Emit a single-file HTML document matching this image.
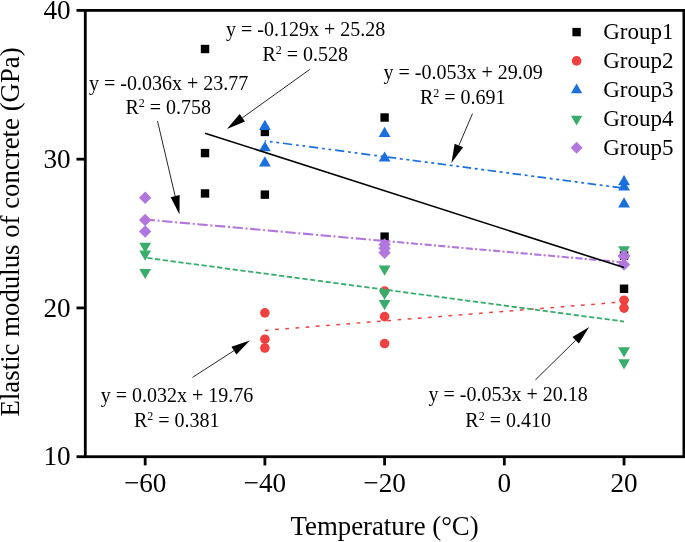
<!DOCTYPE html>
<html><head><meta charset="utf-8"><title>chart</title>
<style>
html,body{margin:0;padding:0;background:#fff;}
body{width:685px;height:542px;overflow:hidden;}
svg{display:block;will-change:transform;}
text{font-family:"Liberation Serif",serif;fill:#000;}
.tk{font-size:27.2px;}
.ti{font-size:26.8px;}
.lg{font-size:23px;}
.an{font-size:20px;}
</style></head><body>
<svg width="685" height="542" viewBox="0 0 685 542">
<rect x="0" y="0" width="685" height="542" fill="#fff"/>

<rect x="200.82" y="44.81" width="8.4" height="8.4" fill="#000000"/>
<rect x="200.82" y="148.89" width="8.4" height="8.4" fill="#000000"/>
<rect x="200.82" y="189.24" width="8.4" height="8.4" fill="#000000"/>
<rect x="260.68" y="127.75" width="8.4" height="8.4" fill="#000000"/>
<rect x="260.68" y="190.44" width="8.4" height="8.4" fill="#000000"/>
<rect x="380.40" y="113.31" width="8.4" height="8.4" fill="#000000"/>
<rect x="380.40" y="232.43" width="8.4" height="8.4" fill="#000000"/>
<rect x="619.84" y="251.48" width="8.4" height="8.4" fill="#000000"/>
<rect x="619.84" y="284.54" width="8.4" height="8.4" fill="#000000"/>
<circle cx="264.88" cy="312.86" r="4.8" fill="#F14040"/>
<circle cx="264.88" cy="339.22" r="4.8" fill="#F14040"/>
<circle cx="264.88" cy="348.00" r="4.8" fill="#F14040"/>
<circle cx="384.60" cy="291.12" r="4.8" fill="#F14040"/>
<circle cx="384.60" cy="316.59" r="4.8" fill="#F14040"/>
<circle cx="384.60" cy="343.54" r="4.8" fill="#F14040"/>
<circle cx="624.04" cy="300.21" r="4.8" fill="#F14040"/>
<circle cx="624.04" cy="308.10" r="4.8" fill="#F14040"/>
<path d="M258.98 129.90L270.78 129.90L264.88 119.70Z" fill="#1A6FDF"/>
<path d="M258.98 151.34L270.78 151.34L264.88 141.14Z" fill="#1A6FDF"/>
<path d="M258.98 166.38L270.78 166.38L264.88 156.18Z" fill="#1A6FDF"/>
<path d="M378.70 137.05L390.50 137.05L384.60 126.85Z" fill="#1A6FDF"/>
<path d="M378.70 161.62L390.50 161.62L384.60 151.42Z" fill="#1A6FDF"/>
<path d="M618.14 185.29L629.94 185.29L624.04 175.09Z" fill="#1A6FDF"/>
<path d="M618.14 190.50L629.94 190.50L624.04 180.30Z" fill="#1A6FDF"/>
<path d="M618.14 207.48L629.94 207.48L624.04 197.28Z" fill="#1A6FDF"/>
<path d="M139.26 242.84L151.06 242.84L145.16 253.04Z" fill="#37AD6B"/>
<path d="M139.26 250.58L151.06 250.58L145.16 260.78Z" fill="#37AD6B"/>
<path d="M139.26 268.90L151.06 268.90L145.16 279.10Z" fill="#37AD6B"/>
<path d="M378.70 265.62L390.50 265.62L384.60 275.82Z" fill="#37AD6B"/>
<path d="M378.70 289.75L390.50 289.75L384.60 299.95Z" fill="#37AD6B"/>
<path d="M378.70 300.02L390.50 300.02L384.60 310.22Z" fill="#37AD6B"/>
<path d="M618.14 246.27L629.94 246.27L624.04 256.47Z" fill="#37AD6B"/>
<path d="M618.14 347.37L629.94 347.37L624.04 357.57Z" fill="#37AD6B"/>
<path d="M618.14 359.28L629.94 359.28L624.04 369.48Z" fill="#37AD6B"/>
<path d="M138.96 197.76L145.16 191.56L151.36 197.76L145.16 203.96Z" fill="#B177DE"/>
<path d="M138.96 219.95L145.16 213.75L151.36 219.95L145.16 226.15Z" fill="#B177DE"/>
<path d="M138.96 231.56L145.16 225.36L151.36 231.56L145.16 237.76Z" fill="#B177DE"/>
<path d="M378.40 244.52L384.60 238.32L390.80 244.52L384.60 250.72Z" fill="#B177DE"/>
<path d="M378.40 248.24L384.60 242.04L390.80 248.24L384.60 254.44Z" fill="#B177DE"/>
<path d="M378.40 252.71L384.60 246.51L390.80 252.71L384.60 258.91Z" fill="#B177DE"/>
<path d="M617.84 255.83L624.04 249.63L630.24 255.83L624.04 262.03Z" fill="#B177DE"/>
<path d="M617.84 256.28L624.04 250.08L630.24 256.28L624.04 262.48Z" fill="#B177DE"/>
<path d="M617.84 264.62L624.04 258.42L630.24 264.62L624.04 270.82Z" fill="#B177DE"/>
<line x1="264.88" y1="330.43" x2="624.04" y2="301.84" stroke="#F14040" stroke-width="1.5" stroke-dasharray="3.7 6.53" stroke-dashoffset="0"/>
<line x1="264.88" y1="140.88" x2="384.60" y2="156.67" stroke="#1A6FDF" stroke-width="1.7" stroke-dasharray="9.2 3.95 2.7 3.8 2.7 3.95" stroke-dashoffset="8.04"/>
<line x1="384.60" y1="156.67" x2="624.04" y2="188.23" stroke="#1A6FDF" stroke-width="1.7" stroke-dasharray="8.6 3.6 3 3.6 3 3.4" stroke-dashoffset="22.13"/>
<line x1="145.16" y1="257.68" x2="624.04" y2="321.53" stroke="#37AD6B" stroke-width="1.8" stroke-dasharray="5.25 2.57" stroke-dashoffset="5.67"/>
<line x1="145.16" y1="219.50" x2="384.60" y2="240.94" stroke="#B177DE" stroke-width="2.1" stroke-dasharray="10.3 2.7 2 2.67" stroke-dashoffset="0.6"/>
<line x1="384.60" y1="240.94" x2="624.04" y2="262.39" stroke="#B177DE" stroke-width="2.1" stroke-dasharray="7.1 2.3 2.07 2.3" stroke-dashoffset="1.2"/>
<line x1="205.02" y1="133.14" x2="624.04" y2="267.60" stroke="#000000" stroke-width="1.6"/>
<rect x="85.30" y="10.40" width="598.60" height="446.30" fill="none" stroke="#000" stroke-width="2.8"/>
<line x1="76.50" y1="456.70" x2="85.30" y2="456.70" stroke="#000" stroke-width="2.8"/>
<text x="70.70" y="465.30" text-anchor="end" class="tk">10</text>
<line x1="76.50" y1="307.93" x2="85.30" y2="307.93" stroke="#000" stroke-width="2.8"/>
<text x="70.70" y="316.53" text-anchor="end" class="tk">20</text>
<line x1="76.50" y1="159.17" x2="85.30" y2="159.17" stroke="#000" stroke-width="2.8"/>
<text x="70.70" y="167.77" text-anchor="end" class="tk">30</text>
<line x1="76.50" y1="10.40" x2="85.30" y2="10.40" stroke="#000" stroke-width="2.8"/>
<text x="70.70" y="19.00" text-anchor="end" class="tk">40</text>
<line x1="145.16" y1="456.70" x2="145.16" y2="465.40" stroke="#000" stroke-width="2.8"/>
<text x="145.16" y="491.6" text-anchor="middle" class="tk">−60</text>
<line x1="264.88" y1="456.70" x2="264.88" y2="465.40" stroke="#000" stroke-width="2.8"/>
<text x="264.88" y="491.6" text-anchor="middle" class="tk">−40</text>
<line x1="384.60" y1="456.70" x2="384.60" y2="465.40" stroke="#000" stroke-width="2.8"/>
<text x="384.60" y="491.6" text-anchor="middle" class="tk">−20</text>
<line x1="504.32" y1="456.70" x2="504.32" y2="465.40" stroke="#000" stroke-width="2.8"/>
<text x="504.32" y="491.6" text-anchor="middle" class="tk">0</text>
<line x1="624.04" y1="456.70" x2="624.04" y2="465.40" stroke="#000" stroke-width="2.8"/>
<text x="624.04" y="491.6" text-anchor="middle" class="tk">20</text>
<text x="384.6" y="535.3" text-anchor="middle" class="ti">Temperature (°C)</text>
<text transform="translate(19,231.9) rotate(-90)" text-anchor="middle" class="ti">Elastic modulus of concrete (GPa)</text>
<rect x="572.40" y="27.90" width="8.4" height="8.4" fill="#000000"/>
<circle cx="576.60" cy="60.90" r="4.8" fill="#F14040"/>
<path d="M571.00 93.30L582.20 93.30L576.60 83.50Z" fill="#1A6FDF"/>
<path d="M571.00 115.80L582.20 115.80L576.60 125.60Z" fill="#37AD6B"/>
<path d="M570.60 147.70L576.60 141.70L582.60 147.70L576.60 153.70Z" fill="#B177DE"/>
<text x="603.2" y="39.3" class="lg">Group1</text>
<text x="603.2" y="68.1" class="lg">Group2</text>
<text x="603.2" y="97.1" class="lg">Group3</text>
<text x="603.2" y="126.2" class="lg">Group4</text>
<text x="603.2" y="154.9" class="lg">Group5</text>
<text x="168.6" y="89.7" text-anchor="middle" class="an">y = -0.036x + 23.77</text><text x="168.3" y="114.4" text-anchor="middle" class="an">R<tspan dy="-7" font-size="12">2</tspan><tspan dy="7">​</tspan> = 0.758</text>
<text x="305.6" y="36.2" text-anchor="middle" class="an">y = -0.129x + 25.28</text><text x="305.2" y="60.5" text-anchor="middle" class="an">R<tspan dy="-7" font-size="12">2</tspan><tspan dy="7">​</tspan> = 0.528</text>
<text x="463.2" y="78.9" text-anchor="middle" class="an">y = -0.053x + 29.09</text><text x="462.7" y="103.7" text-anchor="middle" class="an">R<tspan dy="-7" font-size="12">2</tspan><tspan dy="7">​</tspan> = 0.691</text>
<text x="177" y="401.6" text-anchor="middle" class="an">y = 0.032x + 19.76</text><text x="176.8" y="426.9" text-anchor="middle" class="an">R<tspan dy="-7" font-size="12">2</tspan><tspan dy="7">​</tspan> = 0.381</text>
<text x="508.2" y="401.4" text-anchor="middle" class="an">y = -0.053x + 20.18</text><text x="508.1" y="427.0" text-anchor="middle" class="an">R<tspan dy="-7" font-size="12">2</tspan><tspan dy="7">​</tspan> = 0.410</text>
<line x1="157.50" y1="121.00" x2="175.15" y2="196.10" stroke="#000" stroke-width="0.85"/><path d="M179.50 214.60L170.67 197.16L179.63 195.05Z" fill="#000"/>
<line x1="309.80" y1="69.40" x2="242.34" y2="117.82" stroke="#000" stroke-width="0.85"/><path d="M226.90 128.90L239.65 114.08L245.02 121.56Z" fill="#000"/>
<line x1="472.50" y1="113.60" x2="458.86" y2="145.53" stroke="#000" stroke-width="0.85"/><path d="M451.40 163.00L454.63 143.72L463.09 147.33Z" fill="#000"/>
<line x1="192.50" y1="377.40" x2="233.93" y2="350.69" stroke="#000" stroke-width="0.85"/><path d="M249.90 340.40L236.42 354.56L231.44 346.83Z" fill="#000"/>
<line x1="535.40" y1="379.90" x2="575.65" y2="340.32" stroke="#000" stroke-width="0.85"/><path d="M589.20 327.00L578.88 343.60L572.43 337.04Z" fill="#000"/>
</svg></body></html>
